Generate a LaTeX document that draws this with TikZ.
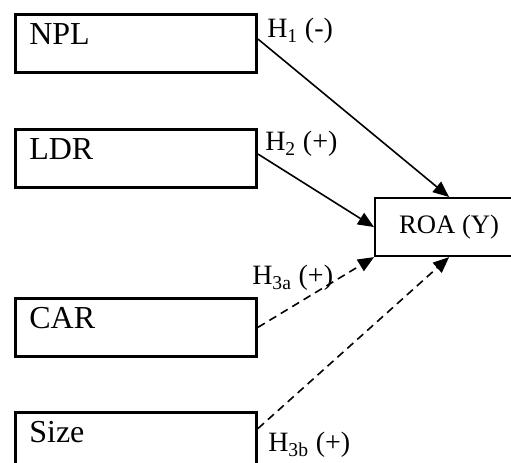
\documentclass[tikz,border=0pt]{standalone}
\usepackage{fontspec}
\setmainfont{Liberation Serif}
\usetikzlibrary{arrows.meta}

\begin{document}
\begin{tikzpicture}[x=0.75pt, y=-0.75pt,
    varbox/.style={draw, line width=2pt, anchor=north west, inner xsep=10.5pt, inner ysep=0pt,
        text width=160pt, align=left, text height=23pt, text depth=20.5pt, font=\fontsize{24}{28}\selectfont},
    roabox/.style={draw, line width=1.6pt, anchor=north west, inner sep=0pt,
        minimum width=111pt, minimum height=43.5pt, font=\fontsize{20}{24}\selectfont},
    link/.style={line width=1.2pt, -{Triangle[length=12pt, width=10pt]}},
    weak/.style={link, dash pattern=on 6pt off 4pt},
    hyp/.style={anchor=base west, inner sep=0pt, font=\fontsize{21}{25}\selectfont}]
    \useasboundingbox (0,0) rectangle (511,463);
    \clip (0,0) rectangle (511,463);

    \node[varbox] (npl)  at (14,13)  {NPL};
    \node[varbox] (ldr)  at (14,128) {LDR};
    \node[varbox] (car)  at (14,297) {CAR};
    \node[varbox] (size) at (14,411) {Size};
    \node[roabox] (roa)  at (374,197) {ROA (Y)};

    \draw[link] (npl.2) -- (roa.north);
    \draw[link] (ldr.2) -- (roa.west);
    \draw[weak] (car.east) -- (roa.south west);
    \draw[weak] (size.6) -- (roa.south);

    \node[hyp] (h1)  at (267,38)  {H\textsubscript{1} (-)};
    \node[hyp] (h2)  at (265,151) {H\textsubscript{2} (+)};
    \node[hyp] (h3a) at (252,285) {H\textsubscript{3a} (+)};
    \node[hyp] (h3b) at (268,452) {H\textsubscript{3b} (+)};
\end{tikzpicture}
\end{document}
